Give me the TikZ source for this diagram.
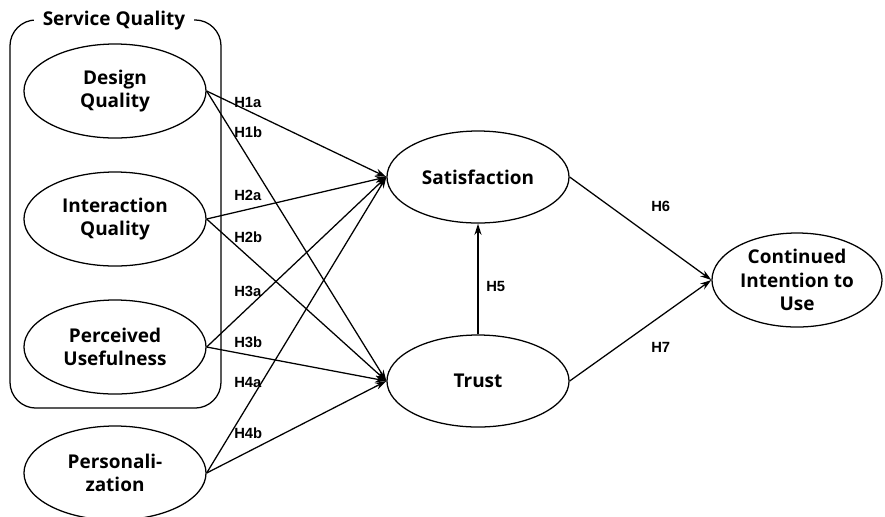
\documentclass[tikz,border=0pt]{standalone}
\usepackage{fontspec}
\setmainfont{Open Sans}
\newfontfamily\hypfont{Liberation Sans}
\usepackage{tikz}
\usetikzlibrary{positioning, shapes.geometric, arrows.meta}

\begin{document}
\begin{tikzpicture}[x=0.025cm, y=-0.025cm,
	latent/.style={ellipse, draw, line width=0.9pt, minimum width=4.55cm, minimum height=2.35cm, inner sep=0pt, align=center, font=\fontsize{13.5}{16.5}\selectfont\bfseries},
	hyp/.style={anchor=west, inner sep=0pt, font=\hypfont\fontsize{10.5}{12}\selectfont\bfseries},
	link/.style={-{Stealth[length=8pt, width=5pt]}, line width=0.9pt}]
	\useasboundingbox (0,0) rectangle (885,516);

	% service quality group
	\node[draw, line width=0.9pt, rounded corners=0.65cm, minimum width=5.275cm, minimum height=9.7cm] (group) at (115.5,214) {};
	\node[fill=white, inner xsep=6pt, inner ysep=1pt, font=\fontsize{13.5}{16}\selectfont\bfseries] (grouplabel) at (114,21) {Service Quality};

	\node[latent] (design) at (115,91)  {Design\\Quality};
	\node[latent] (inter)  at (115,219) {Interaction\\Quality};
	\node[latent] (useful) at (115,347) {Perceived\\Usefulness};
	\node[latent] (person) at (115,473) {Personali-\\zation};
	\node[latent, minimum height=2.3cm] (satis) at (478,177) {Satisfaction};
	\node[latent, minimum height=2.3cm] (trust) at (478,381) {Trust};
	\node[latent, minimum width=4.25cm] (cont) at (797,280) {Continued\\Intention to\\Use};

	\draw[link] (design.east) -- (satis.west);
	\draw[link] (design.east) -- (trust.west);
	\draw[link] (inter.east) -- (satis.west);
	\draw[link] (inter.east) -- (trust.west);
	\draw[link] (useful.east) -- (satis.west);
	\draw[link] (useful.east) -- (trust.west);
	\draw[link] (person.east) -- (satis.west);
	\draw[link] (person.east) -- (trust.west);
	\draw[link, line width=2pt] (trust.north) -- (satis.south);
	\draw[link] (satis.east) -- (cont.west);
	\draw[link] (trust.east) -- (cont.west);

	\node[hyp] (h1a) at (234,102) {H1a};
	\node[hyp] (h1b) at (234,132) {H1b};
	\node[hyp] (h2a) at (234,195) {H2a};
	\node[hyp] (h2b) at (234,237) {H2b};
	\node[hyp] (h3a) at (234,291) {H3a};
	\node[hyp] (h3b) at (234,342) {H3b};
	\node[hyp] (h4a) at (234,382) {H4a};
	\node[hyp] (h4b) at (234,433) {H4b};
	\node[hyp] (h5)  at (486,286) {H5};
	\node[hyp] (h6)  at (651,206) {H6};
	\node[hyp] (h7)  at (651,347) {H7};
\end{tikzpicture}
\end{document}
